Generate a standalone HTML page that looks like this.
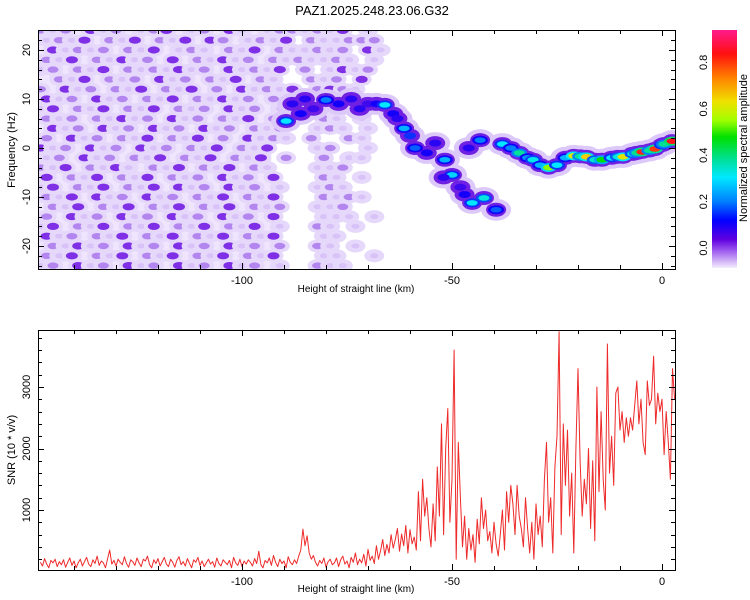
<!DOCTYPE html>
<html><head><meta charset="utf-8"><style>
body{margin:0;background:#fff;}
svg{display:block;font-family:"Liberation Sans",sans-serif;}
</style></head><body>
<svg id="chart" width="750" height="600" viewBox="0 0 750 600">
<defs>
<clipPath id="clipTop"><rect x="38" y="30" width="637" height="239"/></clipPath>
<clipPath id="clipBot"><rect x="38" y="330" width="637" height="240"/></clipPath>
<linearGradient id="cbar" x1="0" y1="0" x2="0" y2="1">
<stop offset="0" stop-color="#ff1a8c"/><stop offset="0.1" stop-color="#ff1010"/>
<stop offset="0.2" stop-color="#ff8000"/><stop offset="0.3" stop-color="#f0e000"/>
<stop offset="0.38" stop-color="#a0ff00"/><stop offset="0.45" stop-color="#00e000"/>
<stop offset="0.55" stop-color="#00e0a0"/><stop offset="0.62" stop-color="#00e8ff"/>
<stop offset="0.72" stop-color="#0080ff"/><stop offset="0.8" stop-color="#0000ff"/>
<stop offset="0.88" stop-color="#6000e0"/><stop offset="0.93" stop-color="#a060f0"/>
<stop offset="1" stop-color="#f4eefc"/>
</linearGradient>
</defs>
<text x="372" y="15" text-anchor="middle" font-size="13">PAZ1.2025.248.23.06.G32</text>
<g id="topPlot"></g>
<g id="botPlot"></g>
<rect x="712" y="30" width="25" height="238" fill="url(#cbar)"/>
<g id="cbLabels"></g>
<text transform="translate(747,148) rotate(-90)" text-anchor="middle" font-size="11">Normalized spectral amplitude</text>
<text x="356" y="292" text-anchor="middle" font-size="10">Height of straight line (km)</text>
<text x="356" y="592" text-anchor="middle" font-size="10">Height of straight line (km)</text>
<text transform="translate(15,150) rotate(-90)" text-anchor="middle" font-size="11">Frequency (Hz)</text>
<text transform="translate(15,450) rotate(-90)" text-anchor="middle" font-size="11">SNR (10 * v/v)</text>
</svg>
<script>
// ---- data ----
const noiseX0 = -148, noiseDX = 3, noiseF0 = 24, noiseDF = -2;
const noiseRows = [
"2120312012301203101221213010","1213021302130320121302112220","0312120213012102130211212031",
"2130213120302131202121121010","1202130212131203121302013120","0213021203120213021002120300",
"2031202130213020312130232100","3120312021302131202023320000","1302130213021203120120012000",
"2120213120312021302100210100","0312031203120312021200121010","2031202130213020312102002100",
"3120312031202130213000120010","1203120213021302130200201100","2130213102130213021000112000",
"3021302130212031203000210100","1302130213031203120100121000","2130312031202130213000212100",
"0213021302130213021200112000","2031203120312031203000111010","1302130213021302130100210100",
"3120213021302130213000110000","0213120312031203120200210100","2130213021302130213000110010",
"1203120312031203120100211000"];
const ridgeX = [-88,-85,-86,-89.5,-83,-80,-77,-74,-72,-70,-68,-66,-64,-63,-61.4,-60,-58.8,-56,-54,-51.7,-50,-52,-43.3,-46,-48,-47,-45.2,-42.4,-39.5,-38,-36,-34,-32,-30.7,-29,-27,-25,-23,-21,-19.5,-18,-16,-14.3,-12,-10.5,-9.3,-7,-6,-4.8,-3,-1.7,0,0.5,2.4];
const ridgeF = [9,10,7,5.5,8,9.8,9,10,8,9,9,8.8,7,6,4,2.5,0,-1,1,-2.4,-5.5,-6,1.6,0,-8,-9.5,-11.2,-10.2,-12.6,0.8,0,-1,-2,-2.4,-3.5,-4,-3.5,-2,-1.6,-1.7,-1.8,-2.4,-2.4,-2,-1.8,-1.8,-1.2,-1,-0.8,-0.5,-0.2,0.6,0.8,1.4];
const ridgeAmp = [.1,.1,.12,.3,.08,.2,.12,.1,.1,.08,.12,.3,.12,.1,.25,.15,.18,.12,.1,.25,.28,.1,.2,.1,.08,.12,.3,.33,.18,.3,.2,.4,.22,.32,.25,.55,.3,.25,.62,.4,.65,.35,.48,.3,.35,.62,.35,.4,.82,.4,.8,.3,.4,.85];
const snrStart = -148, snrStep = 0.5;
const snrValues = [
150,90,210,120,60,180,140,200,80,160, 110,190,70,150,220,100,170,60,140,200,
90,160,230,120,80,190,130,250,100,170, 140,60,210,350,120,180,90,200,150,110,
240,130,70,190,160,100,220,140,80,200, 170,250,110,60,190,130,210,90,160,230,
120,80,200,150,70,180,240,110,160,90, 210,130,60,190,150,230,100,170,80,140,
200,120,160,70,220,130,90,190,150,110, 180,60,230,140,100,200,80,170,120,190,
150,90,210,130,330,110,60,180,140,220, 100,260,150,80,200,130,170,60,240,150,
110,190,130,250,350,690,420,580,300,200, 260,150,90,180,130,220,70,160,200,110,
140,220,80,190,250,120,170,60,230,150, 300,110,200,140,280,90,360,180,250,130,
420,200,340,520,260,440,300,600,380,520, 700,330,610,420,750,300,680,450,560,350,
1300,500,1500,900,1200,700,400,1100,500,1700, 900,2400,600,2000,2650,800,1500,3600,200,2100,
1200,400,900,200,700,350,600,150,850,450, 1200,700,1000,500,650,300,800,450,250,600,
1000,350,1300,800,1400,1100,600,1400,900,700, 400,1200,700,300,800,200,1100,600,900,400,
1500,2100,800,1200,300,1700,2200,3900,600,2400, 1400,2300,900,1600,300,2000,3300,1800,900,1500,
1100,2000,700,1800,500,3000,1300,2600,1500,1000, 3700,1600,2200,1400,2900,3000,2300,2600,2100,2500,
2200,2500,2300,2700,3100,2400,2800,2100,1900,3100, 2700,2800,3500,2400,2900,2600,2800,1900,2600,2100,
1500,3300,2800];
const xTickLabels = [-100,-50,0];
const fTickLabels = [-20,-10,0,10,20];
const snrTickLabels = [1000,2000,3000];
const cbTickLabels = [0.0,0.2,0.4,0.6,0.8];

// ---- scales ----
const xs = v => 662 + 4.2*v;
const fy = f => 148 - 4.9*f;
const sy = s => 571.5 - 0.0615*s;
const cby = v => 248 - 232*v;
const NS = "http://www.w3.org/2000/svg";
function mk(tag, attrs, parent){const e=document.createElementNS(NS,tag);for(const k in attrs)e.setAttribute(k,attrs[k]);parent.appendChild(e);return e;}
const stops=[[0,[238,228,252]],[0.035,[110,20,226]],[0.12,[20,0,250]],[0.2,[0,128,255]],[0.3,[0,232,255]],[0.4,[0,224,150]],[0.48,[0,224,0]],[0.55,[140,250,0]],[0.63,[240,224,0]],[0.73,[255,128,0]],[0.84,[255,16,16]],[0.94,[255,26,140]]];
function cmap(v){for(let i=1;i<stops.length;i++){if(v<=stops[i][0]){const a=stops[i-1],b=stops[i],t=(v-a[0])/(b[0]-a[0]);return 'rgb('+a[1].map((c,j)=>Math.round(c+(b[1][j]-c)*t)).join(',')+')';}}return 'rgb(255,26,140)';}

const topG = document.getElementById('topPlot');
const botG = document.getElementById('botPlot');
const tg = mk('g',{'clip-path':'url(#clipTop)'},topG);
const wash = mk('rect',{x:xs(-149),y:30,width:xs(-93)-xs(-149),height:239,fill:'#efe5fc'},tg);


const levelFill=['none','#d8c2f7','#b386ef','#7f30e6'];
const levelRx=[0,4,5.5,6];
const levelRy=[0,2.5,3.2,3.6];
noiseRows.forEach((row,r)=>{
  for(let c=0;c<row.length;c++){
    const lv=+row[c]; if(!lv) continue;
    const cx=xs(noiseX0+noiseDX*c+(r%2?1.5:0)), cy=fy(noiseF0+noiseDF*r);
    const h=mk('ellipse',{cx:cx,cy:cy,rx:10,ry:6.5,fill:'#e6d8fb'},tg);
    
    
    const e=mk('ellipse',{cx:cx,cy:cy,rx:levelRx[lv],ry:levelRy[lv],fill:levelFill[lv]},tg);
    
    
  }
});
ridgeX.forEach((x,i)=>{
  const e=mk('ellipse',{cx:xs(x),cy:fy(ridgeF[i]),rx:15,ry:11,fill:'#dcc8f9'},tg);
  
  
});
ridgeX.forEach((x,i)=>{
  const e=mk('ellipse',{cx:xs(x),cy:fy(ridgeF[i]),rx:10,ry:7,fill:'#7020e2'},tg);
  
  
});
ridgeX.forEach((x,i)=>{
  const a=ridgeAmp[i];
  if(a>0.15){
    const m=mk('ellipse',{cx:xs(x),cy:fy(ridgeF[i]),rx:8,ry:4.5,fill:cmap(Math.max(0.12,a*0.5))},tg);
    
    
  }
  const e=mk('ellipse',{cx:xs(x),cy:fy(ridgeF[i]),rx:(a>0.15?5.5:6),ry:(a>0.15?2.8:3.5),fill:cmap(a)},tg);
  
  
});
const bg = mk('g',{'clip-path':'url(#clipBot)'},botG);
const pts = snrValues.map((v,i)=>xs(snrStart+snrStep*i).toFixed(1)+','+sy(v).toFixed(1)).join(' ');
const line = mk('polyline',{points:pts,fill:'none',stroke:'#ee2a2a','stroke-width':1,'stroke-linejoin':'round'},bg);



function frame(parent,y0,y1){
  const r=mk('rect',{x:38.5,y:y0+0.5,width:637,height:y1-y0,fill:'none',stroke:'#000','stroke-width':1},parent);
  
  
  for(let k=-140;k<=0;k+=10){
    const x=Math.round(xs(k))+0.5, L=(k%50===0)?6:4;
    mk('line',{x1:x,y1:y0,x2:x,y2:y0+L,stroke:'#000'},parent);
    mk('line',{x1:x,y1:y1,x2:x,y2:y1-L,stroke:'#000'},parent);
  }
  xTickLabels.forEach(k=>{
    const t=mk('text',{x:xs(k),y:y1+15,'text-anchor':'middle','font-size':11},parent);
    t.textContent=k;
    
    
  });
}
frame(topG,30,269);
frame(botG,330,570);
for(let f=-24;f<=24;f+=2){
  const y=Math.round(fy(f))+0.5, L=(f%10===0)?6:4;
  mk('line',{x1:38,y1:y,x2:38+L,y2:y,stroke:'#000'},topG);
  mk('line',{x1:675,y1:y,x2:675-L,y2:y,stroke:'#000'},topG);
}
fTickLabels.forEach(f=>{
  const t=mk('text',{transform:'translate(30,'+fy(f)+') rotate(-90)','text-anchor':'middle','font-size':11},topG);
  t.textContent=f;
  
  
});
for(let s=200;s<=3800;s+=200){
  const y=Math.round(sy(s))+0.5, L=(s%1000===0)?6:4;
  mk('line',{x1:38,y1:y,x2:38+L,y2:y,stroke:'#000'},botG);
  mk('line',{x1:675,y1:y,x2:675-L,y2:y,stroke:'#000'},botG);
}
snrTickLabels.forEach(s=>{
  const t=mk('text',{transform:'translate(30,'+sy(s)+') rotate(-90)','text-anchor':'middle','font-size':11},botG);
  t.textContent=s;
  
  
});
const cbl=document.getElementById('cbLabels');
cbTickLabels.forEach(v=>{
  const t=mk('text',{transform:'translate(707,'+Math.min(cby(v),258)+') rotate(-90)','text-anchor':'middle','font-size':11},cbl);
  t.textContent=v.toFixed(1);
  
  
});
</script>
</body></html>
